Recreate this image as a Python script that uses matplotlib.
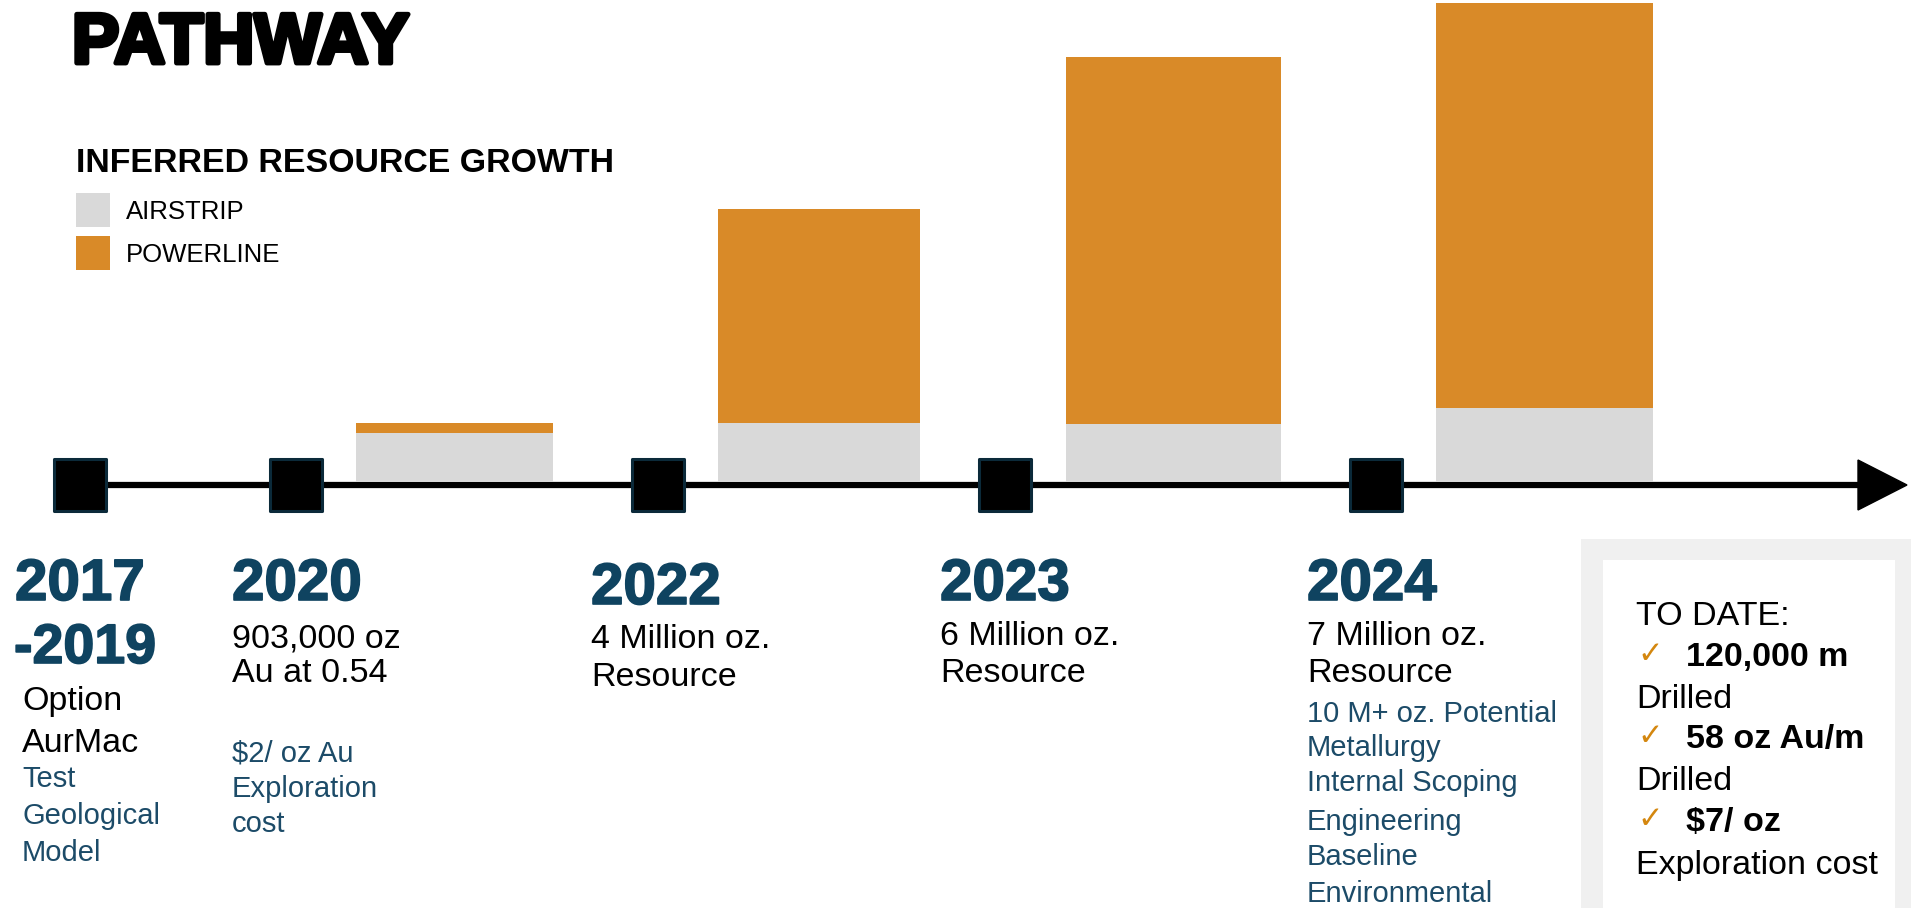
import matplotlib
matplotlib.use("Agg")
import matplotlib.pyplot as plt
from matplotlib.patches import Rectangle, Polygon
import matplotlib.patheffects as pe

plt.rcParams['font.family'] = ['Liberation Sans', 'DejaVu Sans']

# data (million oz, inferred resource)
periods = ["2020-2022", "2022-2023", "2023-2024", "2024+"]
airstrip = [0.71, 0.86, 0.84, 1.07]
powerline = [0.14, 3.12, 5.36, 5.93]

years = ["2017\n-2019", "2020", "2022", "2023", "2024"]
headline = [["Option", "AurMac"], ["903,000 oz", "Au at 0.54"], ["4 Million oz.", "Resource"],
            ["6 Million oz.", "Resource"], ["7 Million oz.", "Resource"]]
details = [["Test", "Geological", "Model"], ["$2/ oz Au", "Exploration", "cost"], [], [],
           ["10 M+ oz. Potential", "Metallurgy", "Internal Scoping", "Engineering",
            "Baseline", "Environmental"]]
to_date = [("120,000 m", "Drilled"), ("58 oz Au/m", "Drilled"), ("$7/ oz", "Exploration cost")]

GRAY = "#d9d9d9"
ORANGE = "#d98a28"
TEAL = "#0f4360"
BLUE = "#1c4b68"
CHECK = "#d4870f"

W, H = 1911, 908
fig = plt.figure(figsize=(W / 100, H / 100), dpi=100)

# layout axes in pixel units (y down)
ax = fig.add_axes([0, 0, 1, 1])
ax.set_xlim(0, W)
ax.set_ylim(H, 0)
ax.axis('off')

# bars axes: baseline at y=481.5 px
base = 481.5
px_per_moz = 68.4
bax = fig.add_axes([0, (H - base) / H, 1, base / H])
bax.set_xlim(0, W)
bax.set_ylim(0, base / px_per_moz)
bax.axis('off')
bar_x = [454.5, 819, 1173.5, 1544.5]
bar_w = [197, 202, 215, 217]
bax.bar(bar_x, airstrip, width=bar_w, color=GRAY, linewidth=0)
bax.bar(bar_x, powerline, width=bar_w, bottom=airstrip, color=ORANGE, linewidth=0)

# title and legend
ax.text(72, 63, "PATHWAY", fontsize=51, fontweight='bold', color='black',
        path_effects=[pe.withStroke(linewidth=3.5, foreground='black')])
ax.text(76, 172, "INFERRED RESOURCE GROWTH", fontsize=24.4, fontweight='bold', color='black')
for yy, col, lab in [(193, GRAY, "AIRSTRIP"), (236, ORANGE, "POWERLINE")]:
    ax.add_patch(Rectangle((76, yy), 34, 34, color=col, lw=0))
    ax.text(126, yy + 26, lab, fontsize=18.5, color='black')

# timeline
line_y = 485
ax.plot([80, 1860], [line_y, line_y], color='black', lw=4.5, solid_capstyle='butt', zorder=2)
ax.add_patch(Polygon([[1858, line_y - 25], [1907, line_y], [1858, line_y + 25]],
                     closed=True, color='black', zorder=2))
mile_x = [80, 296, 658, 1005, 1376]
ax.scatter(mile_x, [line_y] * len(mile_x), marker='s', s=1440, color='black',
           edgecolors='#0b2a3a', linewidths=2.2, zorder=3)

# year columns
col_x = [15, 232, 591, 940, 1307]
year_base = [600, 600, 604, 600, 600]
for i, yr in enumerate(years):
    ax.text(col_x[i], year_base[i], yr.split("\n")[0], fontsize=42, fontweight='bold',
            color=TEAL, va='baseline',
            path_effects=[pe.withStroke(linewidth=1.2, foreground=TEAL)])
    if "\n" in yr:
        ax.text(col_x[i] - 1, 663, yr.split("\n")[1], fontsize=40, fontweight='bold',
                color=TEAL, va='baseline',
                path_effects=[pe.withStroke(linewidth=1.2, foreground=TEAL)])

head_base = [[710, 752], [647, 682], [648, 686], [645, 682], [645, 682]]
det_base = [[787, 824, 861], [761, 797, 832], [], [], [722, 756, 791, 830, 865, 902]]
for i in range(len(years)):
    xx = col_x[i] + (7 if i == 0 else 0)
    for t, b in zip(headline[i], head_base[i]):
        ax.text(xx, b, t, fontsize=24.5, color='black', va='baseline')
    for t, b in zip(details[i], det_base[i]):
        ax.text(xx, b, t, fontsize=21, color=BLUE, va='baseline')

# to-date box
ax.add_patch(Rectangle((1581, 539), W - 1581, H - 539, color='#f0f0f0', lw=0))
ax.add_patch(Rectangle((1603, 560), 1895 - 1603, H - 560, color='white', lw=0))
ax.text(1636, 625, "TO DATE:", fontsize=24.5, color='black', va='baseline')
rows = [(666, 708), (748, 790), (831, 874)]
for (big, small), (b1, b2) in zip(to_date, rows):
    ax.text(1637, b1 - 3, "\u2713", fontsize=22, color=CHECK, va='baseline',
            family=['DejaVu Sans'])
    ax.text(1686, b1, big, fontsize=24.5, fontweight='bold', color='black', va='baseline')
    ax.text(1636, b2, small, fontsize=24.5, color='black', va='baseline')

fig.savefig("out.png", dpi=100)
